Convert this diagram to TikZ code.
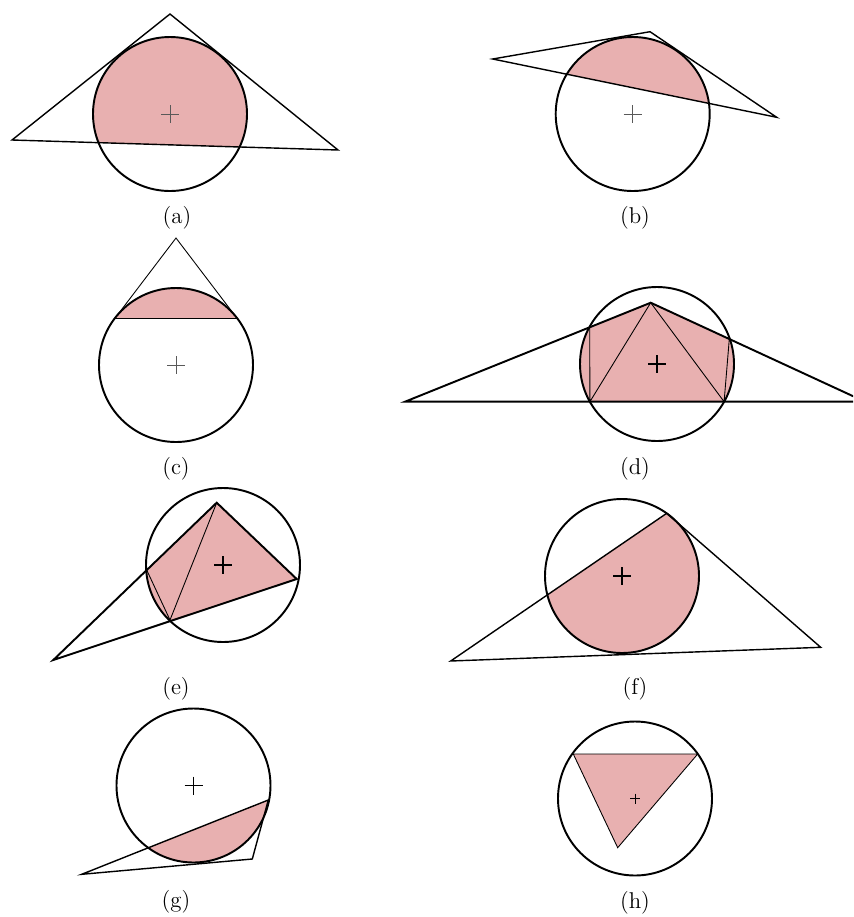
\documentclass[tikz,border=0pt]{standalone}
\usepackage{tikz}
\definecolor{segpink}{RGB}{232,176,176}
\newcommand{\Plus}[3][]{\draw[#1] (#2) +(-#3,0) -- +(#3,0) (#2) +(0,-#3) -- +(0,#3);}

\begin{document}
\begin{tikzpicture}[x=0.02cm, y=-0.02cm,
  every node/.style={font=\fontsize{13}{16}\selectfont},
  rim/.style={line width=1.1pt},
  side/.style={line width=0.8pt, line join=miter},
  heavy/.style={line width=1.1pt, line join=miter},
  chord/.style={line width=0.5pt},
  seg/.style={fill=segpink},
  faint/.style={line width=0.45pt, black!65},
  bold/.style={line width=1pt},
  fine/.style={line width=0.5pt}]
  \useasboundingbox (0,0) rectangle (853,917);
  \clip (0,0) rectangle (853,917);

  % (a)
  \coordinate (oa) at (170,114);
  \coordinate (a1) at (170,14);
  \coordinate (a2) at (12,140);
  \coordinate (a3) at (338,150);
  \begin{scope}
    \clip (a1) -- (a2) -- (a3) -- cycle;
    \fill[seg] (oa) circle (77);
  \end{scope}
  \draw[rim] (oa) circle (77);
  \draw[side] (a1) -- (a2) -- (a3) -- cycle;
  \Plus[faint]{oa}{9}
  \node (la) at (177,218) {(a)};

  % (b)
  \coordinate (ob) at (632.7,114);
  \coordinate (b1) at (492.7,59);
  \coordinate (b2) at (650,31.7);
  \coordinate (b3) at (776.7,117.3);
  \begin{scope}
    \clip (b1) -- (b2) -- (b3) -- cycle;
    \fill[seg] (ob) circle (77);
  \end{scope}
  \draw[rim] (ob) circle (77);
  \draw[side] (b1) -- (b2) -- (b3) -- cycle;
  \Plus[faint]{ob}{9}
  \node (lb) at (635,218) {(b)};

  % (c)
  \coordinate (oc) at (176,365);
  \coordinate (c1) at (176,238);
  \coordinate (c2) at (114.8,318.5);
  \coordinate (c3) at (237.2,318.5);
  \begin{scope}
    \clip (c1) -- (c2) -- (c3) -- cycle;
    \fill[seg] (oc) circle (77);
  \end{scope}
  \draw[rim] (oc) circle (77);
  \draw[chord] (c2) -- (c1) -- (c3);
  \draw[side] (c2) -- (c3);
  \Plus[faint]{oc}{9}
  \node (lc) at (176,469) {(c)};

  % (d)
  \coordinate (od) at (657,364);
  \coordinate (d1) at (405,401.7);
  \coordinate (d2) at (650.7,302.7);
  \coordinate (d3) at (865,401.7);
  \coordinate (dl) at (589.7,327.4);
  \coordinate (dr) at (729.3,339);
  \coordinate (bl) at (589.9,401.7);
  \coordinate (br) at (724.1,401.7);
  \begin{scope}
    \clip (d1) -- (d2) -- (d3) -- cycle;
    \fill[seg] (od) circle (77);
  \end{scope}
  \draw[rim] (od) circle (77);
  \draw[heavy] (d1) -- (d2) -- (d3) -- cycle;
  \draw[chord] (dl) -- (bl) -- (d2) -- (br) -- (dr);
  \Plus[bold]{od}{9}
  \node (ld) at (635,469) {(d)};

  % (e)
  \coordinate (oe) at (223,565);
  \coordinate (e1) at (53.3,660);
  \coordinate (e2) at (216.7,502.7);
  \coordinate (e3) at (296.7,579);
  \coordinate (el) at (146.7,570);
  \coordinate (eb) at (170,620);
  \begin{scope}
    \clip (e1) -- (e2) -- (e3) -- cycle;
    \fill[seg] (oe) circle (77);
  \end{scope}
  \draw[rim] (oe) circle (77);
  \draw[heavy] (e1) -- (e2) -- (e3) -- cycle;
  \draw[chord] (el) -- (eb) -- (e2);
  \Plus[bold]{oe}{9}
  \node (le) at (176,689) {(e)};

  % (f)
  \coordinate (of) at (622,576);
  \coordinate (f1) at (450.7,661);
  \coordinate (f2) at (666.7,513.3);
  \coordinate (f3) at (820.7,647.3);
  \begin{scope}
    \clip (f1) -- (f2) -- (f3) -- cycle;
    \fill[seg] (of) circle (77);
  \end{scope}
  \draw[rim] (of) circle (77);
  \draw[side] (f1) -- (f2) -- (f3) -- cycle;
  \Plus[bold]{of}{9}
  \node (lf) at (635,689) {(f)};

  % (g)
  \coordinate (og) at (193.5,785.5);
  \coordinate (g1) at (81.7,874.3);
  \coordinate (g2) at (268.3,800);
  \coordinate (g3) at (252.3,859);
  \begin{scope}
    \clip (g1) -- (g2) -- (g3) -- cycle;
    \fill[seg] (og) circle (77);
  \end{scope}
  \draw[rim] (og) circle (77);
  \draw[side] (g1) -- (g2) -- (g3) -- cycle;
  \Plus[bold]{og}{9}
  \node (lg) at (176,902) {(g)};

  % (h)
  \coordinate (oh) at (635,798.5);
  \coordinate (h1) at (573.3,754);
  \coordinate (h2) at (697.7,754);
  \coordinate (h3) at (617.7,847.7);
  \fill[seg] (h1) -- (h2) -- (h3) -- cycle;
  \draw[chord] (h1) -- (h2) -- (h3) -- cycle;
  \draw[rim] (oh) circle (77);
  \Plus[fine]{oh}{5}
  \node (lh) at (635,903) {(h)};
\end{tikzpicture}
\end{document}
